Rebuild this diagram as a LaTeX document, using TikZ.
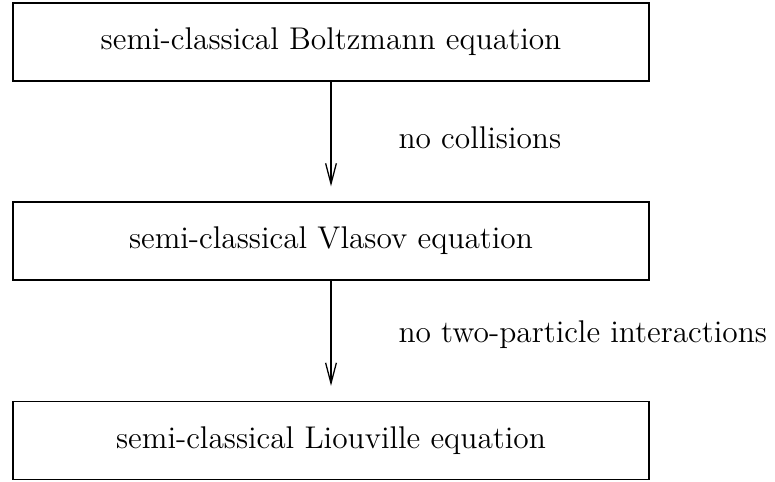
\documentclass[tikz,border=0pt]{standalone}
\usetikzlibrary{arrows.meta}
\begin{document}
\begin{tikzpicture}[x=0.39pt,y=-0.39pt,font=\fontsize{12.25}{15}\selectfont,
  box/.style={draw,line width=0.5pt,minimum width=636*0.39pt,minimum height=78*0.39pt,inner sep=0pt},
  conn/.style={line width=0.5pt,-{Straight Barb[length=8pt,width=4.2pt]},shorten >=15*0.39pt},
  lab/.style={anchor=west,inner sep=0pt}]
\useasboundingbox (0,0) rectangle (775,481);
\node[box] (b1) at (331,42) {semi-classical Boltzmann equation};
\node[box] (b2) at (331,241) {semi-classical Vlasov equation};
\node[box] (b3) at (331,440.5) {semi-classical Liouville equation};
\draw[conn] (b1) -- (b2);
\draw[conn] (b2) -- (b3);
\node[lab] (l1) at (398,138) {no collisions};
\node[lab] (l2) at (398,335) {no two-particle interactions};
\end{tikzpicture}
\end{document}
